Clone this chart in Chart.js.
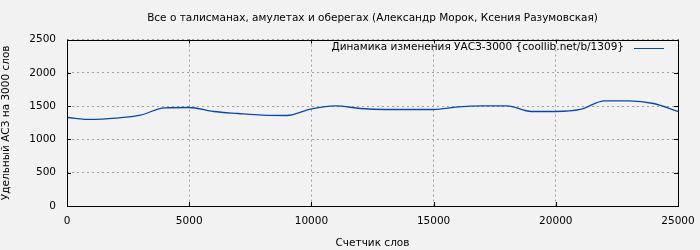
<!DOCTYPE html>
<html>
<head>
<meta charset="utf-8">
<script src="https://cdn.jsdelivr.net/npm/chart.js@4/dist/chart.umd.min.js"></script>
<style>
  html, body { margin: 0; padding: 0; background: #f2f2f2; }
  #wrap { width: 700px; height: 250px; }
</style>
</head>
<body>
<div id="wrap"><canvas id="chart" width="700" height="250"></canvas></div>
<script>
// Word counter positions and the matching values
const words = [0, 1000, 2000, 3000, 4000, 5000, 6000, 7000, 8000, 9000, 10000, 11000, 12000,
  13000, 14000, 15000, 16000, 17000, 18000, 19000, 20000, 21000, 22000, 23000, 24000, 25000];
const values = [1330, 1300, 1320, 1365, 1475, 1480, 1420, 1390, 1365, 1360, 1460, 1505, 1465,
  1450, 1450, 1450, 1490, 1505, 1505, 1420, 1420, 1450, 1580, 1580, 1540, 1420];

const titleText = "Все о талисманах, амулетах и оберегах (Александр Морок, Ксения Разумовская)";
const seriesLabel = "Динамика изменения УАСЗ-3000 {coollib.net/b/1309}";
const xTitle = "Счетчик слов";
const yTitle = "Удельный АСЗ на 3000 слов";

const lineColor = "#0a47a8";
const fontFamily = "'DejaVu Sans', sans-serif";

// Frame around the plot, inward ticks and the legend inside the plot area
const framePlugin = {
  id: "frame",
  afterDraw(chart) {
    const ctx = chart.ctx;
    const a = chart.chartArea;
    const xs = chart.scales.x;
    const ys = chart.scales.y;
    ctx.save();
    ctx.strokeStyle = "#000";
    ctx.lineWidth = 1;
    ctx.strokeRect(Math.round(a.left) + 0.5, Math.round(a.top) + 0.5,
      Math.round(a.right - a.left), Math.round(a.bottom - a.top));

    // small inward ticks
    ctx.beginPath();
    ys.ticks.forEach(function (t) {
      let y = Math.round(ys.getPixelForValue(t.value)) + 0.5;
      ctx.moveTo(a.left, y); ctx.lineTo(a.left + 4, y);
      ctx.moveTo(a.right, y); ctx.lineTo(a.right - 4, y);
    });
    xs.ticks.forEach(function (t) {
      let x = Math.round(xs.getPixelForValue(t.value)) + 0.5;
      ctx.moveTo(x, a.bottom); ctx.lineTo(x, a.bottom - 4);
      ctx.moveTo(x, a.top); ctx.lineTo(x, a.top + 4);
    });
    ctx.stroke();

    // legend
    ctx.font = "10.5px " + fontFamily;
    ctx.fillStyle = "#000";
    ctx.textAlign = "right";
    ctx.textBaseline = "middle";
    let ly = a.top + 8;
    ctx.fillText(seriesLabel, a.right - 54, ly);
    ctx.strokeStyle = lineColor;
    ctx.lineWidth = 1;
    ctx.beginPath();
    ctx.moveTo(a.right - 44, Math.round(ly) + 0.5);
    ctx.lineTo(a.right - 14, Math.round(ly) + 0.5);
    ctx.stroke();
    ctx.restore();
  }
};

Chart.defaults.font.family = fontFamily;
Chart.defaults.font.size = 10.5;
Chart.defaults.color = "#000";

function plainNumber(v) { return String(v); }

new Chart(document.getElementById("chart").getContext("2d"), {
  type: "line",
  data: {
    labels: words,
    datasets: [{
      label: seriesLabel,
      data: words.map(function (w, i) { return { x: w, y: values[i] }; }),
      borderColor: lineColor,
      borderWidth: 1.3,
      pointRadius: 0,
      fill: false,
      cubicInterpolationMode: "monotone"
    }]
  },
  options: {
    responsive: false,
    animation: false,
    layout: { padding: { left: 0, right: 22, top: 0, bottom: 0 } },
    plugins: {
      legend: { display: false },
      tooltip: { enabled: false },
      title: {
        display: true,
        fullSize: false,
        text: titleText,
        font: { size: 10.5, weight: "normal" },
        color: "#000",
        padding: { top: 12, bottom: 15 }
      }
    },
    scales: {
      x: {
        type: "linear",
        min: 0,
        max: 25000,
        ticks: { stepSize: 5000, padding: 9, maxRotation: 0, callback: plainNumber },
        grid: { color: "#a0a0a0", drawTicks: false, tickLength: 0 },
        border: { display: false, dash: [2, 3] },
        title: { display: true, text: xTitle, padding: { top: 5, bottom: 0 } },
        afterFit(scale) {
          scale.height = 44;
          scale.paddingLeft = 0;
          scale.paddingRight = 0;
        }
      },
      y: {
        min: 0,
        max: 2500,
        ticks: { stepSize: 500, padding: 11, callback: plainNumber },
        grid: { color: "#a0a0a0", drawTicks: false, tickLength: 0 },
        border: { display: false, dash: [2, 3] },
        title: { display: true, text: yTitle, padding: { top: 0, bottom: 2 } },
        afterFit(scale) { scale.width = 67; }
      }
    }
  },
  plugins: [framePlugin]
});
</script>
</body>
</html>
